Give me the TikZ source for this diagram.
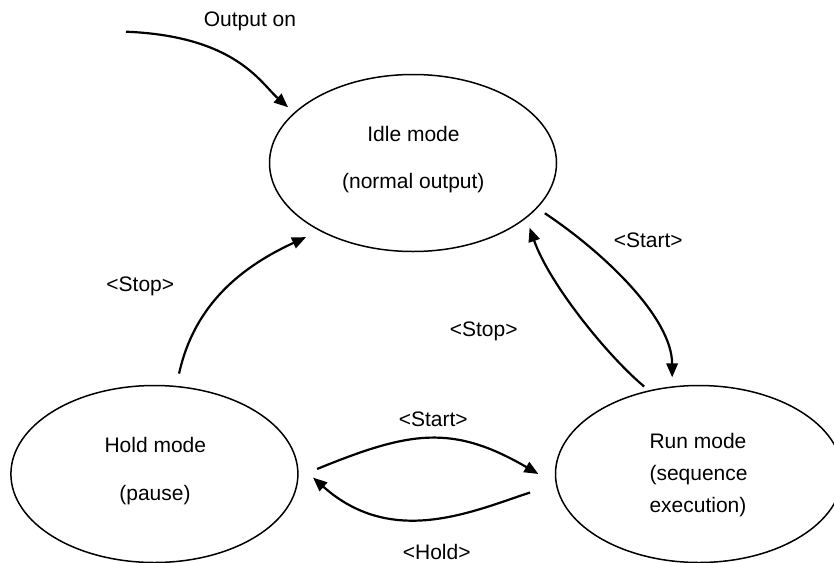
\documentclass[tikz,border=0pt]{standalone}
\usepackage{fontspec}
\setmainfont{Liberation Sans}
\usetikzlibrary{arrows.meta,shapes.geometric}
\begin{document}
\begin{tikzpicture}[x=1pt,y=-1pt,
  state/.style={draw, ellipse, line width=1.5pt, minimum width=287pt, minimum height=177pt, inner sep=0pt},
  txt/.style={font=\fontsize{21}{25}\selectfont, inner sep=0pt},
  conn/.style={line width=2.2pt, -{Triangle[length=14pt,width=11.5pt]}},
]
\useasboundingbox (0,0) rectangle (834,562);

% states
\node[state] (idle) at (413,163) {};
\node[state] (hold) at (154.4,474) {};
\node[state] (run)  at (699,474) {};

% state texts
\node[txt, anchor=base] (idleA) at (413.5,141) {Idle mode};
\node[txt, anchor=base] (idleB) at (413.3,188.3) {(normal output)};
\node[txt, anchor=base] (holdA) at (155.3,452.3) {Hold mode};
\node[txt, anchor=base] (holdB) at (155,500) {(pause)};
\node[txt, anchor=base west] (runA) at (649.3,448.3) {Run mode};
\node[txt, anchor=base west] (runB) at (649.3,480) {(sequence};
\node[txt, anchor=base west] (runC) at (649.3,512.3) {execution)};

% labels
\node[txt] (lOut)    at (250,21.7)    {Output on};
\node[txt] (lStartR) at (648.3,240)   {<Start>};
\node[txt] (lStopR)  at (483.7,331.7) {<Stop>};
\node[txt] (lStopL)  at (140.3,286.7) {<Stop>};
\node[txt] (lStartB) at (433.3,419.3) {<Start>};
\node[txt] (lHold)   at (436.7,551.5) {<Hold>};

% connectors
\coordinate (outStart) at (126,31.7);
\draw[conn, shorten >=8pt] (outStart) .. controls (236,36.1) and (260.7,83.2) .. (idle.157.4);
\draw[conn, shorten <=9pt, shorten >=9pt] (idle.-20) .. controls (604.5,253) and (672,318) .. (run.107);
\draw[conn, shorten <=6pt, shorten >=10pt] (run.121) .. controls (607,355.4) and (549.3,283.7) .. (idle.-26);
\draw[conn, shorten <=12.5pt, shorten >=14.8pt] (hold.76.9) .. controls (194.4,303.7) and (242.7,266.2) .. (idle.-144);
\draw[conn, shorten <=20pt, shorten >=20pt] (hold.-1.5) .. controls (409.9,431.1) and (452,423.9) .. (run.-176.4);
\draw[conn, shorten <=27pt, shorten >=20.5pt] (run.184.5) .. controls (470.4,512.2) and (391.8,547.5) .. (hold.4.2);
\end{tikzpicture}
\end{document}
